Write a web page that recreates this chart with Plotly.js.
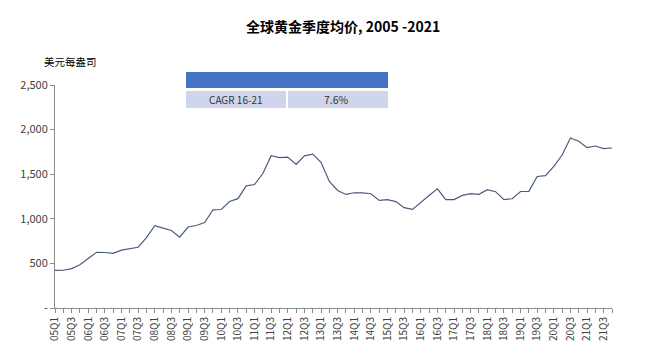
<!DOCTYPE html>
<html>
<head>
<meta charset="utf-8">
<script src="https://cdn.plot.ly/plotly-3.0.1.min.js"></script>
<style>html,body{margin:0;padding:0;background:#fff;}#chart{width:661px;height:364px;}</style>
</head>
<body>
<div id="chart"></div>
<script>
const quarters = [
"05Q1","05Q2","05Q3","05Q4","06Q1","06Q2","06Q3","06Q4",
"07Q1","07Q2","07Q3","07Q4","08Q1","08Q2","08Q3","08Q4",
"09Q1","09Q2","09Q3","09Q4","10Q1","10Q2","10Q3","10Q4",
"11Q1","11Q2","11Q3","11Q4","12Q1","12Q2","12Q3","12Q4",
"13Q1","13Q2","13Q3","13Q4","14Q1","14Q2","14Q3","14Q4",
"15Q1","15Q2","15Q3","15Q4","16Q1","16Q2","16Q3","16Q4",
"17Q1","17Q2","17Q3","17Q4","18Q1","18Q2","18Q3","18Q4",
"19Q1","19Q2","19Q3","19Q4","20Q1","20Q2","20Q3","20Q4",
"21Q1","21Q2","21Q3","21Q4"];
const goldPrice = [
422,423,442,484,554,624,622,613,
649,668,681,789,924,895,869,794,
908,925,959,1101,1104,1194,1226,1369,
1384,1508,1707,1685,1692,1609,1706,1725,
1633,1418,1318,1273,1292,1290,1281,1206,
1215,1193,1125,1106,1188,1262,1336,1216,
1216,1262,1282,1274,1327,1304,1215,1225,
1306,1308,1474,1484,1588,1715,1907,1870,
1797,1816,1786,1794];
const yTickVals = [0,500,1000,1500,2000,2500];
const yTickText = ["-","500","1,000","1,500","2,000","2,500"];
const tableLabel = "CAGR 16-21";
const tableValue = "7.6%";
const chartTitle = "全球黄金季度均价, 2005 -2021";
const yUnit = "美元每盎司";

const xTickText = quarters.map(q => (q.endsWith("Q1") || q.endsWith("Q3")) ? q : "");

const L = 55, R = 49, T = 85, B = 56;
const W = 661, H = 364;
const pw = W - L - R, ph = H - T - B;
const px = v => (v - L) / pw;
const py = v => (H - B - v) / ph;

const font = "Noto Sans CJK SC, Noto Sans, sans-serif";

const trace = {
  x: quarters, y: goldPrice, type: "scatter", mode: "lines",
  line: {color: "#4B5B7C", width: 1.2}, hoverinfo: "skip"
};

const layout = {
  width: W, height: H,
  margin: {l: L, r: R, t: T, b: B},
  paper_bgcolor: "#fff", plot_bgcolor: "#fff",
  showlegend: false,
  font: {family: font, color: "#404040", size: 11},
  title: {text: "<b>" + chartTitle + "</b>", font: {size: 14, color: "#000", family: font},
          x: 342 / W, xanchor: "center", y: 1 - 27 / H, yanchor: "middle", xref: "paper", yref: "container"},
  xaxis: {
    type: "category", range: [0, quarters.length - 1],
    tickmode: "array", tickvals: quarters, ticktext: xTickText,
    tickangle: -90, tickfont: {size: 10, color: "#404040"},
    ticks: "outside", ticklen: 4, tickcolor: "#8c8c8c",
    showline: true, linecolor: "#8c8c8c", linewidth: 1,
    showgrid: false, zeroline: false, automargin: false
  },
  yaxis: {
    range: [0, 2500], tickmode: "array", tickvals: yTickVals, ticktext: yTickText,
    ticks: "outside", ticklen: 4, tickcolor: "#8c8c8c",
    tickfont: {size: 11, color: "#404040"},
    showline: true, linecolor: "#8c8c8c", linewidth: 1,
    showgrid: false, zeroline: false, automargin: false
  },
  shapes: [
    {type: "rect", xref: "paper", yref: "paper", x0: px(186), x1: px(388), y0: py(88), y1: py(72),
     fillcolor: "#4472C4", line: {width: 0}},
    {type: "rect", xref: "paper", yref: "paper", x0: px(186), x1: px(286), y0: py(108), y1: py(91),
     fillcolor: "#CFD5EA", line: {width: 0}},
    {type: "rect", xref: "paper", yref: "paper", x0: px(288), x1: px(388), y0: py(108), y1: py(91),
     fillcolor: "#CFD5EA", line: {width: 0}}
  ],
  annotations: [
    {text: yUnit, xref: "paper", yref: "paper", x: px(70), y: py(62), xanchor: "center", yanchor: "middle",
     showarrow: false, font: {size: 10.5, color: "#000"}},
    {text: tableLabel, xref: "paper", yref: "paper", x: px(236), y: py(99.5), xanchor: "center", yanchor: "middle",
     showarrow: false, font: {size: 10, color: "#333"}},
    {text: tableValue, xref: "paper", yref: "paper", x: px(337), y: py(99.5), xanchor: "center", yanchor: "middle",
     showarrow: false, font: {size: 10.5, color: "#333"}}
  ]
};

Plotly.newPlot("chart", [trace], layout, {staticPlot: true, displayModeBar: false});
</script>
</body>
</html>
